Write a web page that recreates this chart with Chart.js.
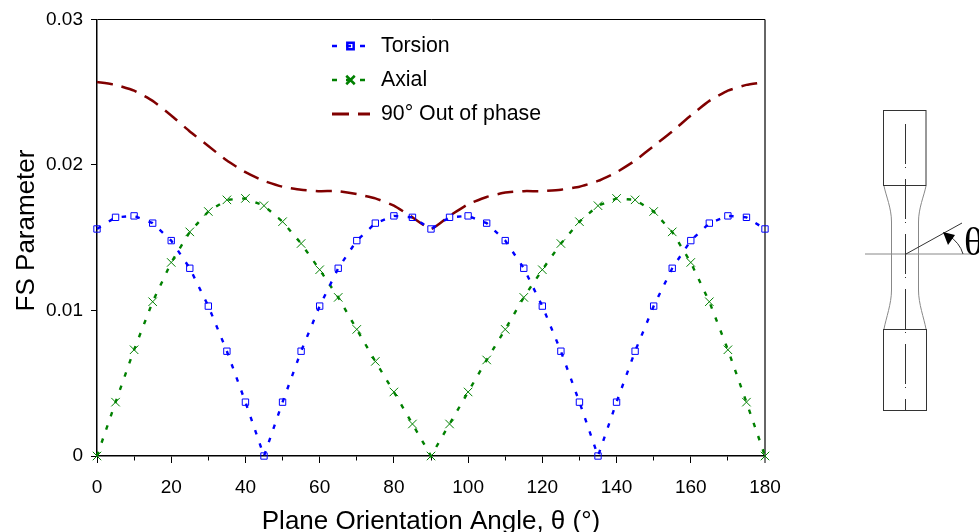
<!DOCTYPE html>
<html>
<head>
<meta charset="utf-8">
<style>
  html, body { margin: 0; padding: 0; background: #fff; overflow: hidden; }
  canvas { display: block; }
</style>
<script src="https://cdn.jsdelivr.net/npm/chart.js@4"></script>
</head>
<body>
<canvas id="fsChart" width="979" height="532"></canvas>
<script>
const angles = [0, 5, 10, 15, 20, 25, 30, 35, 40, 45, 50, 55, 60, 65, 70, 75, 80, 85, 90,
    95, 100, 105, 110, 115, 120, 125, 130, 135, 140, 145, 150, 155, 160, 165, 170, 175, 180];
const torsion = [0.0156, 0.0164, 0.0165, 0.0160, 0.0148, 0.0129, 0.0103, 0.0072, 0.0037, 0,
    0.0037, 0.0072, 0.0103, 0.0129, 0.0148, 0.0160, 0.0165, 0.0164, 0.0156,
    0.0164, 0.0165, 0.0160, 0.0148, 0.0129, 0.0103, 0.0072, 0.0037, 0,
    0.0037, 0.0072, 0.0103, 0.0129, 0.0148, 0.0160, 0.0165, 0.0164, 0.0156];
const axial = [0, 0.0037, 0.0073, 0.0106, 0.0133, 0.0154, 0.0168, 0.0176, 0.0177, 0.0172,
    0.0161, 0.0146, 0.0128, 0.0109, 0.0087, 0.0065, 0.0044, 0.0022, 0,
    0.0022, 0.0044, 0.0066, 0.0087, 0.0109, 0.0128, 0.0146, 0.0161, 0.0172,
    0.0177, 0.0176, 0.0168, 0.0154, 0.0133, 0.0106, 0.0073, 0.0037, 0];
const outOfPhase = [0.0257, 0.0255, 0.0251, 0.0244, 0.0234, 0.0223, 0.0213, 0.0203, 0.0195, 0.0189,
    0.0185, 0.0183, 0.0182, 0.0182, 0.0180, 0.0177, 0.0172, 0.0164, 0.0156,
    0.0165, 0.0173, 0.0178, 0.0181, 0.0182, 0.0182, 0.0183, 0.0185, 0.0189,
    0.0195, 0.0203, 0.0213, 0.0223, 0.0234, 0.0244, 0.0251, 0.0255, 0.0257];

const BLUE = '#0000ff';
const GREEN = '#008000';
const DARKRED = '#800000';
const FONT = '"Liberation Sans", Arial, sans-serif';

function toPoints(values) {
    return values.map((v, i) => ({ x: angles[i], y: v }));
}

// legend sits inside the plot, key = dashed line with the marker on top
const insideLegend = {
    id: 'insideLegend',
    afterDatasetsDraw(chart) {
        const ctx = chart.ctx;
        const rows = [46, 80, 114];
        ctx.save();
        ctx.font = '21.3px ' + FONT;
        ctx.textBaseline = 'middle';
        chart.data.datasets.forEach((ds, i) => {
            const y = rows[i];
            ctx.strokeStyle = ds.borderColor;
            ctx.lineWidth = i === 2 ? 3 : 2.5;
            ctx.setLineDash(i === 2 ? [17, 9] : [5, 9]);
            ctx.beginPath();
            ctx.moveTo(332, y);
            ctx.lineTo(i === 2 ? 370 : 365, y);
            ctx.stroke();
            ctx.setLineDash([]);
            if (i < 2) {
                Chart.helpers.drawPoint(ctx, {
                    pointStyle: ds.pointStyle,
                    radius: ds.pointRadius,
                    borderWidth: 1
                }, 350.5, y);
            }
            ctx.fillStyle = '#000';
            ctx.fillText(ds.label, 381, y);
        });
        ctx.restore();
    }
};

// test specimen sketch to the right of the plot
const specimen = {
    id: 'specimen',
    afterDraw(chart) {
        const ctx = chart.ctx;
        ctx.save();
        ctx.strokeStyle = '#333';
        ctx.lineWidth = 1;
        ctx.strokeRect(883.5, 110.5, 42.5, 75);
        ctx.strokeRect(883.5, 329.5, 43, 81);

        ctx.strokeStyle = '#888';
        ctx.beginPath();
        ctx.moveTo(884, 186);
        ctx.bezierCurveTo(886, 196, 891.5, 208, 891.5, 222);
        ctx.lineTo(891.5, 290);
        ctx.bezierCurveTo(891.5, 304, 886, 318, 884, 329);
        ctx.moveTo(926, 186);
        ctx.bezierCurveTo(924, 196, 918.5, 208, 918.5, 222);
        ctx.lineTo(918.5, 290);
        ctx.bezierCurveTo(918.5, 304, 924, 318, 926, 329);
        ctx.moveTo(865, 254);
        ctx.lineTo(973, 254);
        ctx.stroke();

        ctx.strokeStyle = '#333';
        ctx.setLineDash([40, 3, 1, 11]);
        ctx.beginPath();
        ctx.moveTo(905.5, 124);
        ctx.lineTo(905.5, 410);
        ctx.stroke();
        ctx.setLineDash([]);

        ctx.beginPath();
        ctx.moveTo(906, 254);
        ctx.lineTo(962, 223);
        ctx.moveTo(963, 254);
        ctx.quadraticCurveTo(960, 243, 948, 235);
        ctx.stroke();

        ctx.fillStyle = '#000';
        ctx.beginPath();
        ctx.moveTo(943, 232);
        ctx.lineTo(955, 235);
        ctx.lineTo(948, 245);
        ctx.closePath();
        ctx.fill();

        ctx.font = '40px "Liberation Serif", "Times New Roman", serif';
        ctx.textBaseline = 'alphabetic';
        ctx.fillText('θ', 964, 255);
        ctx.restore();
    }
};

new Chart(document.getElementById('fsChart'), {
    type: 'line',
    data: {
        datasets: [
            {
                label: 'Torsion',
                data: toPoints(torsion),
                borderColor: BLUE,
                backgroundColor: 'transparent',
                borderWidth: 2.4,
                borderDash: [4.5, 9.5],
                tension: 0,
                pointStyle: 'rect',
                pointRadius: 4.5,
                pointBorderWidth: 1,
                pointBorderColor: BLUE,
                pointBackgroundColor: 'transparent',
                clip: false
            },
            {
                label: 'Axial',
                data: toPoints(axial),
                borderColor: GREEN,
                backgroundColor: 'transparent',
                borderWidth: 2.4,
                borderDash: [4.5, 9.5],
                tension: 0,
                pointStyle: 'crossRot',
                pointRadius: 6,
                pointBorderWidth: 1,
                pointBorderColor: GREEN,
                clip: false
            },
            {
                label: '90° Out of phase',
                data: toPoints(outOfPhase),
                borderColor: DARKRED,
                backgroundColor: 'transparent',
                borderWidth: 2.5,
                borderDash: [16, 9],
                tension: 0.15,
                pointRadius: 0,
                clip: false
            }
        ]
    },
    options: {
        responsive: false,
        animation: false,
        layout: { padding: { left: 11, right: 214, top: 19, bottom: 0 } },
        plugins: {
            legend: { display: false },
            tooltip: { enabled: false }
        },
        scales: {
            x: {
                type: 'linear',
                min: 0,
                max: 180,
                afterFit: (scale) => { scale.height = 76; },
                title: {
                    display: true,
                    text: 'Plane Orientation Angle, θ (°)',
                    color: '#000',
                    font: { family: FONT, size: 26 },
                    padding: { top: 6, bottom: -5 }
                },
                border: { color: '#000', width: 1.5 },
                grid: {
                    color: (c) => (c.tick && c.tick.value === 180 ? '#666' : 'transparent'),
                    lineWidth: (c) => (c.tick && c.tick.value === 180 ? 2 : 1),
                    tickColor: '#000',
                    tickLength: 7,
                    tickWidth: 1,
                    // unlabelled ticks are shorter
                    tickBorderDash: (c) => (c.tick && c.tick.value % 20 !== 0 ? [4, 10] : [])
                },
                ticks: {
                    stepSize: 10,
                    autoSkip: false,
                    maxRotation: 0,
                    color: '#000',
                    font: { family: FONT, size: 19 },
                    padding: 13,
                    callback: (v) => (v % 20 === 0 ? String(v) : '')
                }
            },
            y: {
                min: 0,
                max: 0.03,
                afterFit: (scale) => { scale.width = 86; },
                title: {
                    display: true,
                    text: '  FS Parameter',
                    color: '#000',
                    font: { family: FONT, size: 26 },
                    padding: { top: 0, bottom: 0 }
                },
                border: { color: '#000', width: 1.5 },
                grid: {
                    color: (c) => (c.tick && Math.abs(c.tick.value - 0.03) < 1e-6 ? '#000' : 'transparent'),
                    tickColor: '#000',
                    tickLength: 6,
                    tickWidth: 1
                },
                ticks: {
                    stepSize: 0.01,
                    color: '#000',
                    font: { family: FONT, size: 19 },
                    padding: 8,
                    callback: (v) => (v === 0 ? '0' : v.toFixed(2))
                }
            }
        }
    },
    plugins: [insideLegend, specimen]
});
</script>
</body>
</html>
